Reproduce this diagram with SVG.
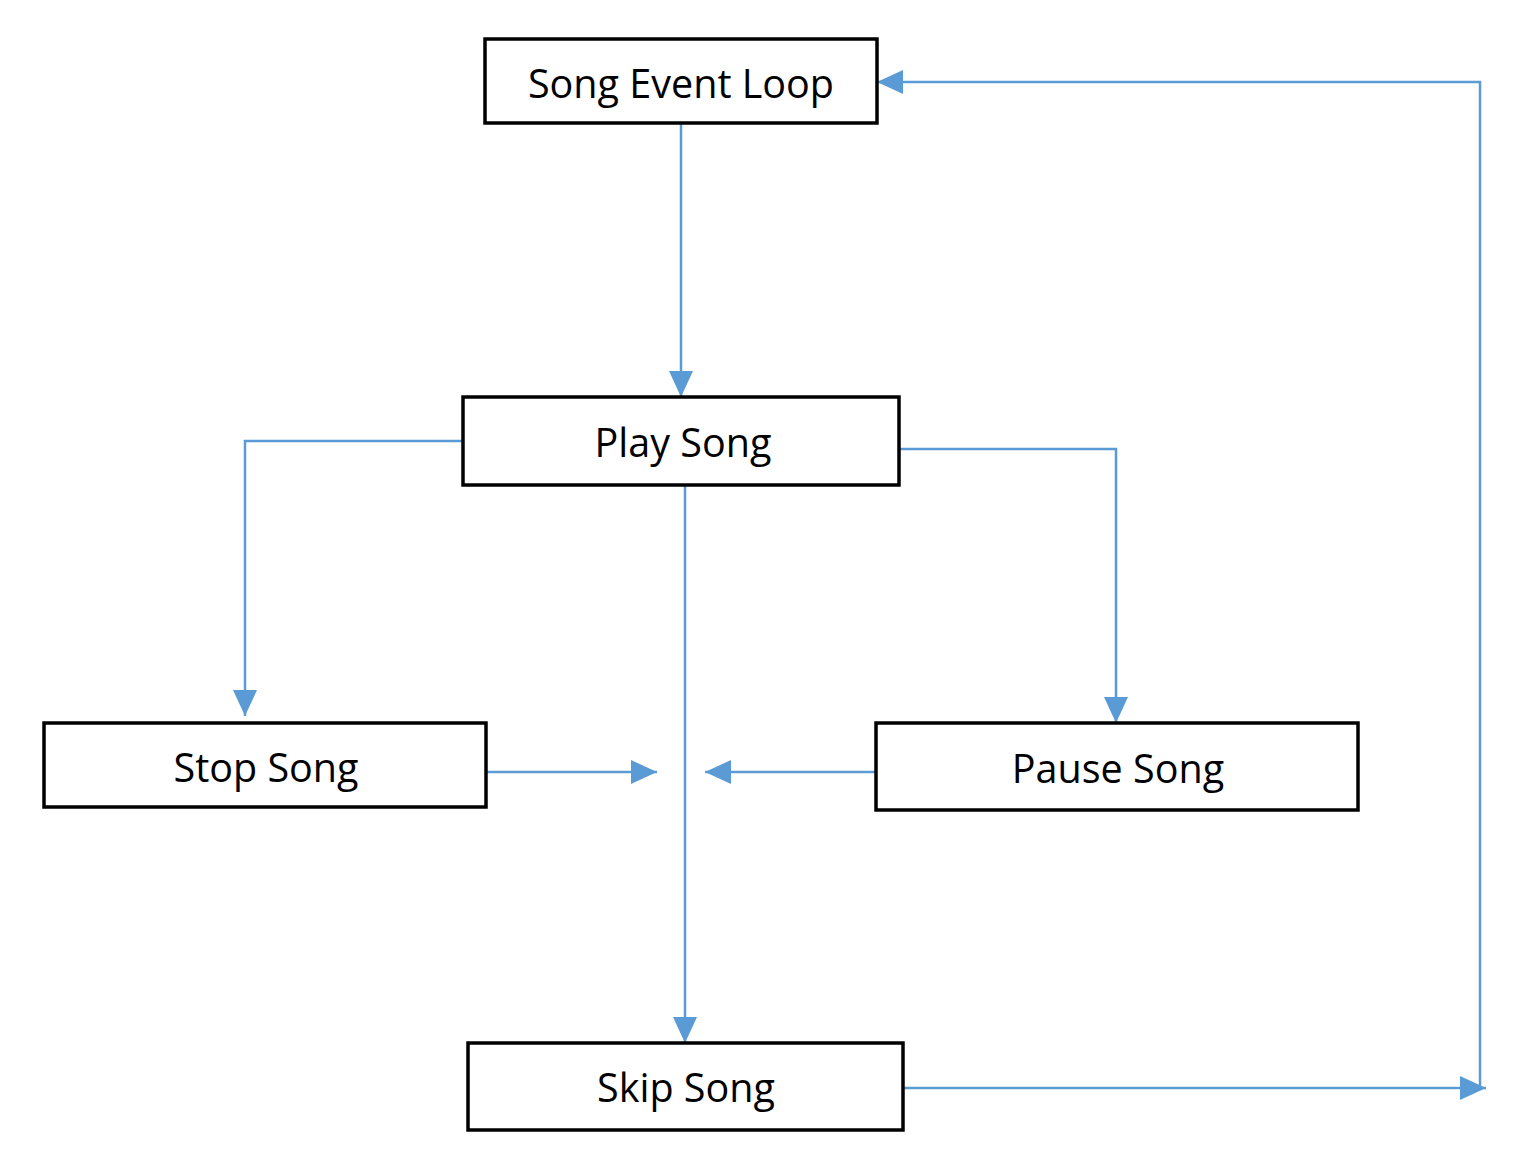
<svg xmlns="http://www.w3.org/2000/svg" width="1536" height="1176" viewBox="0 0 1536 1176">
<style>
.box{fill:#fff;stroke:#000;stroke-width:3.5}
.lbl{font-family:"Open Sans","Liberation Sans",sans-serif;font-size:39.5px;fill:#000;text-anchor:middle;dominant-baseline:central}
.c{fill:none;stroke:#5B9BD5;stroke-width:2.5}
</style>
<defs>
<marker id="ah" markerUnits="userSpaceOnUse" markerWidth="26" markerHeight="26" viewBox="0 0 26 26" refX="26" refY="13" orient="auto">
<path d="M0,1 L26,13 L0,25 Z" fill="#5B9BD5"/>
</marker>
</defs>
<rect width="1536" height="1176" fill="#fff"/>
<g id="connectors">
<path class="c" d="M681,123 V397" marker-end="url(#ah)"/>
<path class="c" d="M463,441 H245 V716" marker-end="url(#ah)"/>
<path class="c" d="M899,449 H1116 V723" marker-end="url(#ah)"/>
<path class="c" d="M685,485 V1043" marker-end="url(#ah)"/>
<path class="c" d="M486,772 H657" marker-end="url(#ah)"/>
<path class="c" d="M876,772 H705" marker-end="url(#ah)"/>
<path class="c" d="M903,1088 H1486" marker-end="url(#ah)"/>
<path class="c" d="M1480,1088 V82 H877" marker-end="url(#ah)"/>
</g>
<g id="song-event-loop"><rect class="box" x="485" y="39" width="392" height="84"/><text class="lbl" x="681" y="83">Song Event Loop</text></g>
<g id="play-song"><rect class="box" x="463" y="397" width="436" height="88"/><text class="lbl" x="683" y="442">Play Song</text></g>
<g id="stop-song"><rect class="box" x="44" y="723" width="442" height="84"/><text class="lbl" x="266" y="767">Stop Song</text></g>
<g id="pause-song"><rect class="box" x="876" y="723" width="482" height="87"/><text class="lbl" x="1118" y="768">Pause Song</text></g>
<g id="skip-song"><rect class="box" x="468" y="1043" width="435" height="87"/><text class="lbl" x="686" y="1087">Skip Song</text></g>
</svg>
